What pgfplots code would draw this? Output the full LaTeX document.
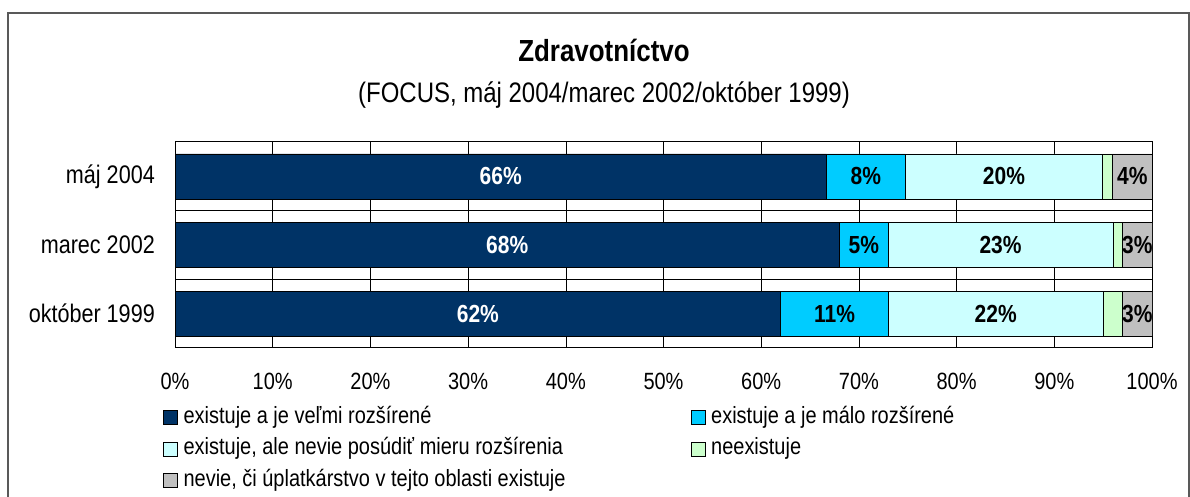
\documentclass[border=0pt]{standalone}
\usepackage{pgfplots}
\pgfplotsset{compat=1.18}
\usepackage{pgfplotstable}
\usepackage{fontspec}
\setmainfont{Liberation Sans}[FakeStretch=0.85]
\definecolor{cNavy}{HTML}{003366}
\definecolor{cCyan}{HTML}{00CCFF}
\definecolor{cLCyan}{HTML}{CCFFFF}
\definecolor{cGreen}{HTML}{CCFFCC}
\definecolor{cGray}{HTML}{C0C0C0}
% raw answers (percent); Excel 100% stacked normalises by the row total
\pgfplotstableread{
y a b c d e tot
2 66 8 20 1 4 99
1 68 5 23 1 3 100
0 62 11 22 2 3 100
}\datatab
\begin{document}
\begin{tikzpicture}
\path[use as bounding box] (0,0) rectangle (1190pt,497pt);
\draw[gray!70!black, line width=1.2pt] (8pt,-10pt) -- (8pt,484pt) -- (1189pt,484pt) -- (1189pt,-10pt);
\node[font=\bfseries\fontsize{30.5}{34}\selectfont] at (604pt,447pt) {Zdravotníctvo};
\node[font=\fontsize{28.2}{32}\selectfont] at (604pt,402pt) {(FOCUS, máj 2004/marec 2002/október 1999)};
\begin{axis}[
  at={(175pt,149pt)}, anchor=south west,
  scale only axis, width=977pt, height=206pt,
  xbar stacked, bar width=45pt,
  xmin=0, xmax=100, ymin=-0.5, ymax=2.5,
  xtick={0,10,20,30,40,50,60,70,80,90,100},
  xticklabels={0\%,10\%,20\%,30\%,40\%,50\%,60\%,70\%,80\%,90\%,100\%},
  ytick={0,1,2},
  yticklabels={október 1999,marec 2002,máj 2004},
  minor ytick={0.5,1.5},
  xmajorgrids, yminorgrids,
  major grid style={black, line width=0.6pt},
  minor grid style={black, line width=0.6pt},
  major tick length=0pt, minor tick length=0pt,
  tick label style={font=\fontsize{23.5}{27}\selectfont, inner sep=0pt},
  xticklabel style={yshift=-25pt},
  yticklabel style={xshift=-20pt, font=\fontsize{25.4}{29}\selectfont},
  axis line style={black, line width=1pt},
  legend columns=2,
  legend cell align=left,
  legend style={at={(axis description cs:-0.0123,-0.282)}, anchor=north west,
    draw=none, fill=none, inner sep=0pt, outer sep=0pt,
    font=\fontsize{23.5}{27}\selectfont, row sep=8.5pt,
    nodes={inner sep=0pt, text height=17pt, text depth=6pt},
    /tikz/every odd column/.append style={column sep=6pt},
    /tikz/every even column/.append style={column sep=7pt}},
  legend image code/.code={\draw[#1, draw=black, line width=0.6pt] (0pt,-7pt) rectangle (14pt,7pt);},
]
\addplot[fill=cNavy, draw=black, line width=0.6pt] table[x expr=\thisrow{a}*100/\thisrow{tot}, y=y]{\datatab};
\addlegendentry{\makebox[500pt][l]{existuje a je veľmi rozšírené}}
\addplot[fill=cCyan, draw=black, line width=0.6pt] table[x expr=\thisrow{b}*100/\thisrow{tot}, y=y]{\datatab};
\addlegendentry{\makebox[500pt][l]{existuje a je málo rozšírené}}
\addplot[fill=cLCyan, draw=black, line width=0.6pt] table[x expr=\thisrow{c}*100/\thisrow{tot}, y=y]{\datatab};
\addlegendentry{\makebox[500pt][l]{existuje, ale nevie posúdiť mieru rozšírenia}}
\addplot[fill=cGreen, draw=black, line width=0.6pt] table[x expr=\thisrow{d}*100/\thisrow{tot}, y=y]{\datatab};
\addlegendentry{\makebox[500pt][l]{neexistuje}}
\addplot[fill=cGray, draw=black, line width=0.6pt] table[x expr=\thisrow{e}*100/\thisrow{tot}, y=y]{\datatab};
\addlegendentry{\makebox[500pt][l]{nevie, či úplatkárstvo v tejto oblasti existuje}}
\end{axis}
\begin{axis}[
  at={(175pt,149pt)}, anchor=south west,
  scale only axis, width=977pt, height=206pt,
  xmin=0, xmax=100, ymin=-0.5, ymax=2.5,
  hide axis, clip=false,
  nodes near coords={\pgfplotspointmeta\%},
  point meta=explicit symbolic,
  every node near coord/.append style={anchor=center, inner sep=0pt, font=\bfseries\fontsize{24.7}{28}\selectfont},
]
\addplot[draw=none, mark=none, every node near coord/.append style={text=white}]
  table[x expr=\thisrow{a}*50/\thisrow{tot}, y=y, meta=a]{\datatab};
\addplot[draw=none, mark=none, every node near coord/.append style={text=black}]
  table[x expr=(\thisrow{a}+\thisrow{b}/2)*100/\thisrow{tot}, y=y, meta=b]{\datatab};
\addplot[draw=none, mark=none, every node near coord/.append style={text=black}]
  table[x expr=(\thisrow{a}+\thisrow{b}+\thisrow{c}/2)*100/\thisrow{tot}, y=y, meta=c]{\datatab};
\addplot[draw=none, mark=none, every node near coord/.append style={text=black}]
  table[x expr=(\thisrow{a}+\thisrow{b}+\thisrow{c}+\thisrow{d}+\thisrow{e}/2)*100/\thisrow{tot}, y=y, meta=e]{\datatab};
\end{axis}
\end{tikzpicture}
\end{document}
